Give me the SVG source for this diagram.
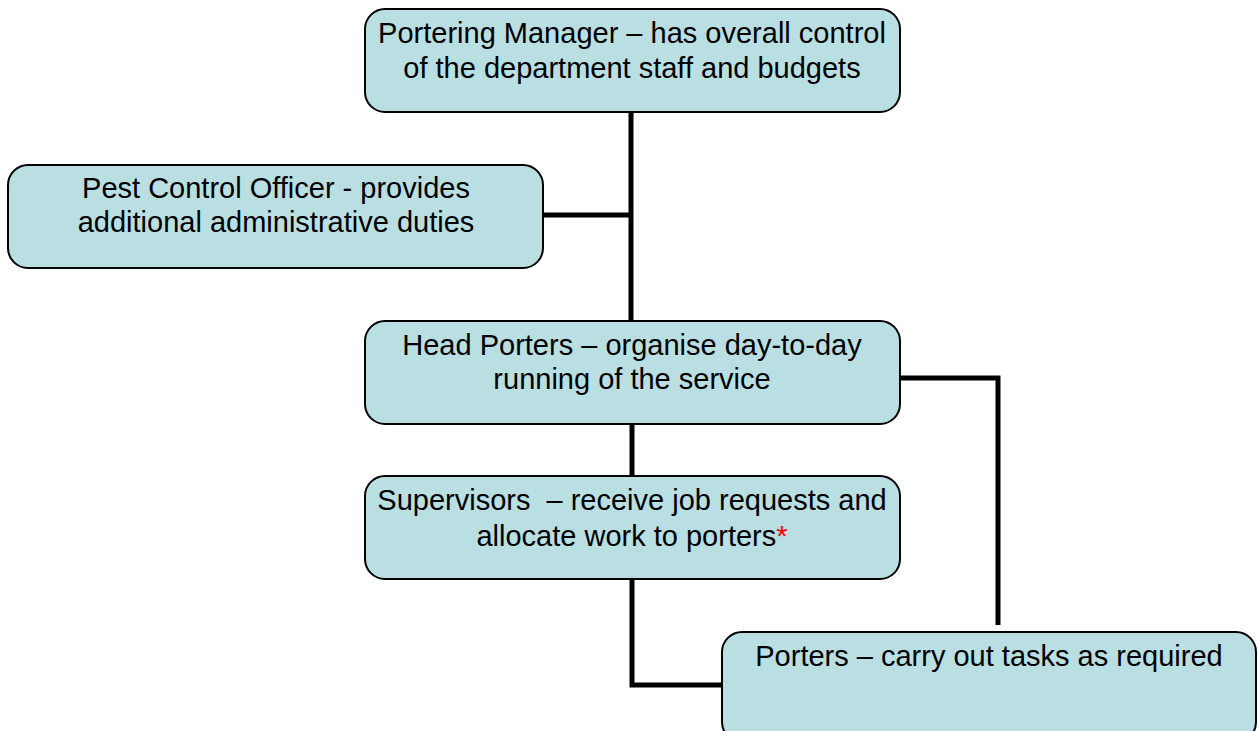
<svg xmlns="http://www.w3.org/2000/svg" width="1258" height="731" viewBox="0 0 1258 731">
<style>
.box{fill:#b9dfe3;stroke:#000;stroke-width:2}
.t{font-family:"Liberation Sans",Arial,sans-serif;font-size:29px;fill:#000;text-anchor:middle}
.c{fill:none;stroke:#000;stroke-width:5}
</style>
<rect width="1258" height="731" fill="#fff"/>
<g id="connectors">
<path class="c" d="M631 112V320"/>
<path class="c" d="M543 215H631"/>
<path class="c" d="M900 378H998V625"/>
<path class="c" d="M632 424V476"/>
<path class="c" d="M632 579V685H722"/>
</g>
<g id="manager">
<rect class="box" x="365" y="9" width="535" height="103" rx="20"/>
<text class="t" x="632" y="43">Portering Manager – has overall control</text>
<text class="t" x="632" y="78">of the department staff and budgets</text>
</g>
<g id="pest">
<rect class="box" x="8" y="165" width="535" height="103" rx="20"/>
<text class="t" x="276" y="198">Pest Control Officer - provides</text>
<text class="t" x="276" y="232">additional administrative duties</text>
</g>
<g id="head">
<rect class="box" x="365" y="321" width="535" height="103" rx="20"/>
<text class="t" x="632" y="355">Head Porters – organise day-to-day</text>
<text class="t" x="632" y="389">running of the service</text>
</g>
<g id="supervisors">
<rect class="box" x="365" y="476" width="535" height="103" rx="20"/>
<text class="t" x="632" y="510" xml:space="preserve">Supervisors  – receive job requests and</text>
<text class="t" x="632" y="546">allocate work to porters<tspan fill="#ff0000">*</tspan></text>
</g>
<g id="porters">
<rect class="box" x="722" y="632" width="534" height="110" rx="20"/>
<text class="t" x="989" y="666">Porters – carry out tasks as required</text>
</g>
</svg>
